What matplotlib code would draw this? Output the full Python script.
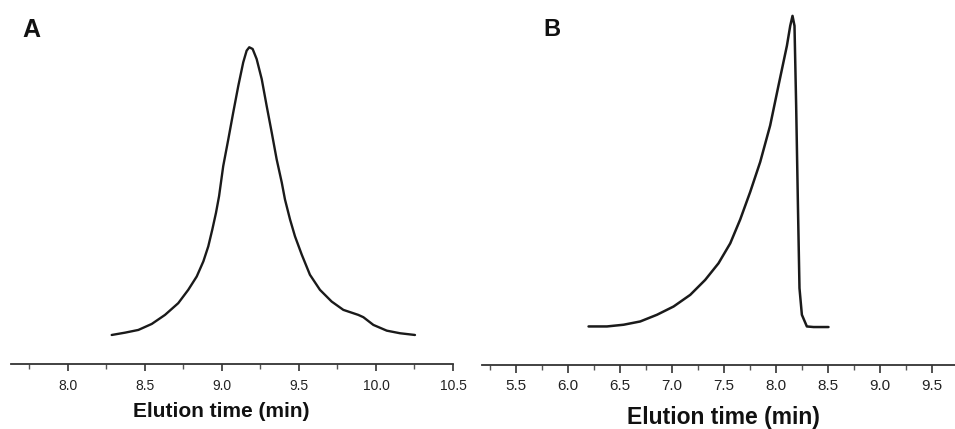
import matplotlib
matplotlib.use("Agg")
import matplotlib.pyplot as plt
from matplotlib.ticker import MultipleLocator

plt.rcParams['font.family'] = ['Liberation Sans', 'DejaVu Sans']

# Panel A: elution profile (time in min, intensity a.u.)
time_a = [8.284, 8.370, 8.457, 8.544, 8.630, 8.716, 8.781, 8.836, 8.879, 8.911,
          8.937, 8.961, 8.981, 9.008, 9.041, 9.073, 9.106, 9.138, 9.160, 9.177,
          9.199, 9.225, 9.258, 9.290, 9.323, 9.355, 9.388, 9.409, 9.442, 9.474,
          9.518, 9.571, 9.636, 9.712, 9.788, 9.885, 9.918, 9.983, 10.070, 10.156,
          10.253]
signal_a = [0.17, 0.97, 1.92, 4.00, 7.14, 11.21, 15.84, 20.47, 25.70, 30.92,
            36.73, 42.55, 48.33, 58.77, 68.07, 77.37, 86.63, 94.78, 98.82, 100.0,
            99.41, 95.93, 88.96, 79.67, 70.40, 61.11, 53.10, 47.18, 40.22, 34.40,
            28.03, 21.07, 15.84, 11.77, 8.88, 7.14, 6.34, 3.66, 1.67, 0.77,
            0.17]

# Panel B: elution profile
time_b = [6.195, 6.372, 6.532, 6.692, 6.853, 7.013, 7.173, 7.317, 7.445, 7.558,
          7.654, 7.750, 7.846, 7.942, 8.022, 8.103, 8.135, 8.157, 8.176, 8.192,
          8.209, 8.224, 8.247, 8.295, 8.359, 8.503]
signal_b = [0.19, 0.19, 0.74, 1.79, 3.94, 6.60, 10.34, 15.15, 20.49, 26.90,
            34.58, 43.42, 53.03, 64.78, 77.59, 90.39, 96.80, 100.0, 96.80, 71.18,
            39.16, 12.49, 3.94, 0.19, 0.0, 0.0]

xticks_a = [8.0, 8.5, 9.0, 9.5, 10.0, 10.5]
xticks_b = [5.5, 6.0, 6.5, 7.0, 7.5, 8.0, 8.5, 9.0, 9.5]
xlabel = "Elution time (min)"

fig = plt.figure(figsize=(9.55, 4.29), dpi=100)
W, H = 955, 429

def make_ax(left, right, bottom_px):
    return fig.add_axes([left / W, (H - bottom_px) / H, (right - left) / W, bottom_px / H])

axA = make_ax(11, 453, 364)
axB = make_ax(482, 955, 365)

line_col = '#1a1a1a'
axA.plot(time_a, signal_a, color=line_col, lw=1.7, solid_joinstyle='round', solid_capstyle='round')
axB.plot(time_b, signal_b, color=line_col, lw=1.8, solid_joinstyle='round', solid_capstyle='round')

axA.set_xlim(7.63, 10.5)
axA.set_ylim(-9.9, 116.4)
axB.set_xlim(5.17, 9.72)
axB.set_ylim(-12.2, 105.1)

for ax, ticks, fs, maj_len, pad in [(axA, xticks_a, 10, 5, 6), (axB, xticks_b, 11, 6, 4)]:
    for s in ['top', 'right', 'left']:
        ax.spines[s].set_visible(False)
    ax.spines['bottom'].set_linewidth(1.3)
    ax.spines['bottom'].set_color('#333333')
    ax.set_yticks([])
    ax.set_xticks(ticks)
    ax.set_xticklabels([f"{t:.1f}" for t in ticks])
    ax.xaxis.set_minor_locator(MultipleLocator(0.25))
    ax.tick_params(axis='x', which='major', direction='out', length=maj_len, width=1.2,
                   color='#333333', labelsize=fs, pad=pad, labelcolor='#222222')
    ax.tick_params(axis='x', which='minor', direction='out', length=3.5, width=1.0,
                   color='#555555')
    ax.patch.set_visible(False)

axA.set_xlabel(xlabel, fontsize=15, fontweight='bold', color='#111111')
axA.xaxis.set_label_coords(0.475, -0.105)
axB.set_xlabel(xlabel, fontsize=16.5, fontweight='bold', color='#111111')
axB.xaxis.set_label_coords(0.51, -0.112)

fig.text(22 / W, 1 - 37 / H, "A", fontsize=18, fontweight='bold', ha='left', va='baseline', color='#111111')
fig.text(543 / W, 1 - 36 / H, "B", fontsize=17, fontweight='bold', ha='left', va='baseline', color='#111111')

fig.savefig("out.png", dpi=100)
